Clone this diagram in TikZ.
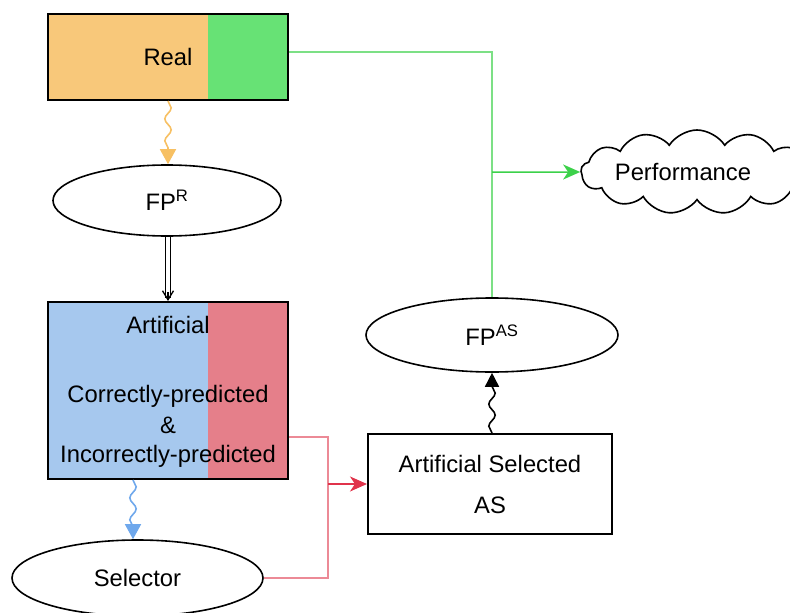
\documentclass[tikz,border=0pt]{standalone}
\usepackage{fontspec}
\setmainfont{Liberation Sans}
\usetikzlibrary{arrows.meta, decorations.pathmorphing, shapes.geometric, shapes.symbols, calc}
\definecolor{orangef}{HTML}{F8C87A}
\definecolor{greenf}{HTML}{67E275}
\definecolor{bluef}{HTML}{A6C8EE}
\definecolor{redf}{HTML}{E57F8A}
\definecolor{orangea}{HTML}{F7C063}
\definecolor{bluea}{HTML}{6FA8EC}
\definecolor{pinkl}{HTML}{EC8A96}
\definecolor{reda}{HTML}{E0334B}
\definecolor{greenl}{HTML}{7CE085}
\definecolor{greena}{HTML}{3CD14A}
\begin{document}
\begin{tikzpicture}[x=1pt,y=-1pt,
  font=\fontsize{23.8}{28}\selectfont,
  box/.style={draw=black, line width=2pt, rectangle, inner sep=0pt},
  oval/.style={draw=black, line width=1.6pt, ellipse, inner sep=0pt, fill=white},
  txt/.style={inner sep=0pt, anchor=center},
  wavy/.style={line width=1.6pt, decorate,
    decoration={snake, amplitude=3.2pt, segment length=22pt, post length=12pt}},
  pinkline/.style={pinkl, line width=1.5pt},
  greenline/.style={greenl, line width=1.5pt}
]
\useasboundingbox (0,0) rectangle (790,613);

% Real box
\node[box, minimum width=240pt, minimum height=86pt, fill=orangef,
  path picture={\fill[greenf] ([xshift=-80pt]path picture bounding box.north east) rectangle (path picture bounding box.south east);}]
  (real) at (168,57) {Real};

% FP^R
\node[oval, minimum width=228pt, minimum height=71pt] (fpr) at (167,200.5) {FP\textsuperscript{R}};

% Artificial box
\node[box, minimum width=240pt, minimum height=177pt, fill=bluef,
  path picture={\fill[redf] ([xshift=-80pt]path picture bounding box.north east) rectangle (path picture bounding box.south east);}]
  (art) at (168,390.5) {};
\node[txt] (art1) at (168,325) {Artificial};
\node[txt] (art2) at (168,396) {Correctly-predicted};
\node[txt] (art3) at (168,425) {\&};
\node[txt] (art4) at (168,456) {Incorrectly-predicted};

% Selector
\node[oval, minimum width=251pt, minimum height=76pt] (sel) at (137.5,578) {Selector};

% Artificial Selected box
\node[box, minimum width=244pt, minimum height=100pt, fill=white] (as) at (490,484) {};
\node[txt] (as1) at (490,464) {Artificial Selected};
\node[txt] (as2) at (490,505) {AS};

% FP^AS
\node[oval, minimum width=252pt, minimum height=74pt] (fpas) at (492,335) {FP\textsuperscript{AS}};

% Performance cloud
\node[cloud, draw=black, line width=1.6pt, fill=white, cloud puffs=13, cloud puff arc=115,
  aspect=3.2, minimum width=232pt, minimum height=84pt, inner sep=0pt] (perf) at (697,172) {};
\node[txt] (perft) at (683,172) {Performance};

% connectors
\draw[wavy, orangea, -{Triangle[width=16pt,length=15pt]}] (real.south) -- (real.south |- fpr.north);
\draw[wavy, bluea, -{Triangle[width=16pt,length=15pt]}] ([xshift=-35pt]art.south) -- ([xshift=-35pt]art.south |- sel.north);
\draw[wavy, black, -{Triangle[width=14pt,length=14pt]}] (fpas.south |- as.north) -- (fpas.south);

% double arrow
\draw[double=white, double distance=3.5pt, line width=1.3pt, shorten >=3pt] (fpr.south -| art.north) -- (art.north);
\draw[line width=1.3pt, -{Straight Barb[length=9pt,width=11pt]}, shorten <=55pt] (fpr.south -| art.north) -- (art.north);

% green
\coordinate (gj) at (492,172);
\draw[greenline] ([yshift=5pt]real.east) -| (fpas.north);
\draw[greena, line width=1.5pt, -{Stealth[length=17pt,width=15pt,inset=5pt]}] (gj) -- (perf.west);

% pink / red
\coordinate (rj) at (328,484);
\draw[pinkline] ([yshift=-46.5pt]art.east) -| (rj) |- (sel.east);
\draw[reda, line width=1.5pt, -{Stealth[length=17pt,width=15pt,inset=5pt]}] (rj) -- (as.west);
\end{tikzpicture}
\end{document}
